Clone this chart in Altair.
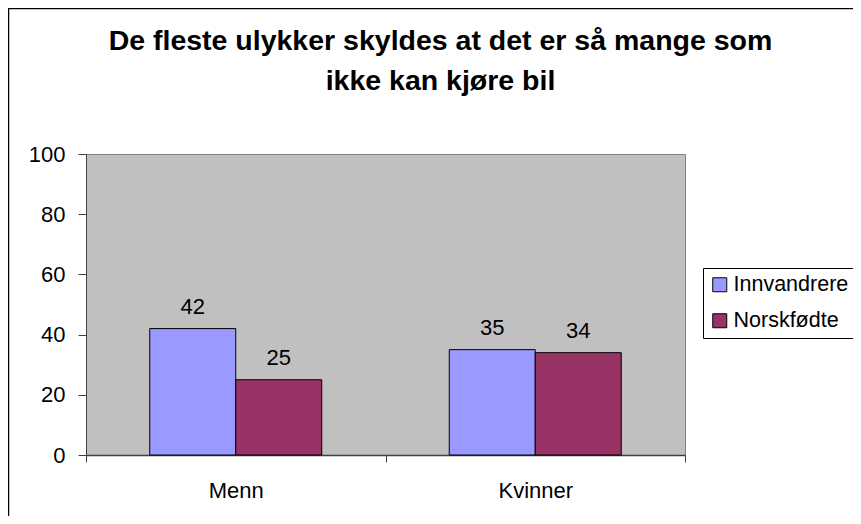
import altair as alt
import pandas as pd

categories = ["Menn", "Kvinner"]
series = ["Innvandrere", "Norskfødte"]
innvandrere = [42, 35]
norskfodte = [25, 34]
y_ticks = [0, 20, 40, 60, 80, 100]
title_lines = ["De fleste ulykker skyldes at det er så mange som", "ikke kan kjøre bil"]
colors = ["#9999FF", "#993366"]

rows = []
for c, a, b in zip(categories, innvandrere, norskfodte):
    rows.append({"kategori": c, "gruppe": series[0], "verdi": a})
    rows.append({"kategori": c, "gruppe": series[1], "verdi": b})
df = pd.DataFrame(rows)

FONT = "Liberation Sans"

x = alt.X(
    "kategori:N", sort=categories, title=None,
    scale=alt.Scale(paddingInner=0, paddingOuter=0),
    axis=alt.Axis(labelAngle=0, tickBand="extent", tickSize=7, labelFontSize=22,
                  labelPadding=18, domainColor="#404040", tickColor="#404040",
                  domainWidth=1.5, labelColor="black", labelFont=FONT),
)
y = alt.Y(
    "verdi:Q", title=None, scale=alt.Scale(domain=[0, 100], nice=False),
    axis=alt.Axis(values=y_ticks, grid=False, tickSize=8, labelPadding=13,
                  labelFontSize=22, labelFont=FONT, labelColor="black",
                  domainColor="#404040", tickColor="#404040"),
)
xo = alt.XOffset("gruppe:N", sort=series,
                 scale=alt.Scale(paddingInner=0, paddingOuter=0.7413))
color = alt.Color(
    "gruppe:N", sort=series,
    scale=alt.Scale(domain=series, range=colors),
    legend=alt.Legend(title=None, orient="none", legendX=617, legendY=114,
                      labelFontSize=21.5, labelFont=FONT, labelColor="black",
                      symbolType="square", symbolSize=196, symbolStrokeColor="black",
                      symbolStrokeWidth=1, symbolOpacity=1, strokeColor="black",
                      fillColor="white", padding=6, rowPadding=13, labelOffset=3),
)

bars = alt.Chart(df).mark_bar(stroke="black", strokeWidth=1, opacity=1).encode(
    x=x, y=y, xOffset=xo, color=color
)
labels = alt.Chart(df).mark_text(
    baseline="alphabetic", dy=-15, fontSize=22, font=FONT, color="black"
).encode(x=x, y=y, xOffset=xo, text="verdi:Q")

frame = alt.Chart(pd.DataFrame({"f": [0]})).mark_rect(
    fillOpacity=0, stroke="black", strokeWidth=1.5
).encode(
    x=alt.value(-77.5), x2=alt.value(1000), y=alt.value(-145.5), y2=alt.value(700)
)

chart = alt.layer(bars, labels, frame).properties(
    width=599, height=301,
    padding={"left": 78, "top": 146, "right": 168, "bottom": 61},
    autosize=alt.AutoSizeParams(type="none"),
    title=alt.TitleParams(text=title_lines, font=FONT, fontSize=28.5, fontWeight="bold",
                          anchor="middle", frame="group", dx=55, offset=-88,
                          lineHeight=40, color="black"),
    background="white",
).configure_view(fill="#C0C0C0", stroke="#808080", strokeWidth=1)

chart.save("out.html", embed_options={"renderer": "svg", "actions": False})
